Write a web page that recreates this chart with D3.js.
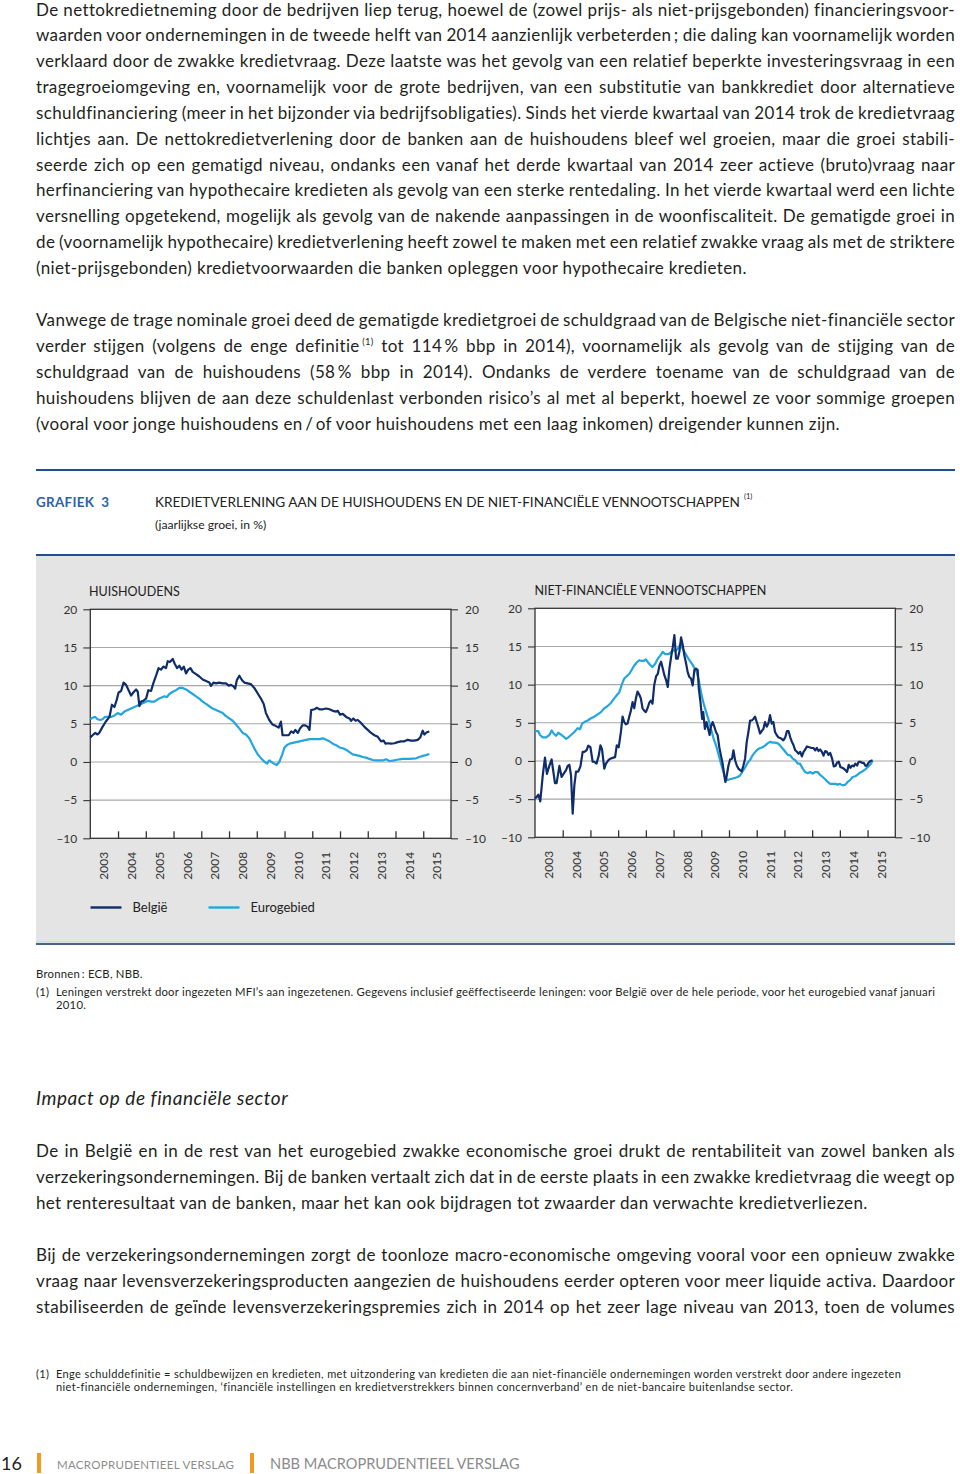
<!DOCTYPE html>
<html><head><meta charset="utf-8">
<script src="https://cdn.jsdelivr.net/npm/d3@7"></script>
<style>html,body{margin:0;padding:0;background:#fff}svg{display:block}</style>
</head><body>
<svg id="page" width="960" height="1474"></svg>
<script>
// ---------------- DATA ----------------
const valueTicks = [-10, -5, 0, 5, 10, 15, 20];
const yearBoundaries = [2004, 2005, 2006, 2007, 2008, 2009, 2010, 2011, 2012, 2013, 2014, 2015];
const yearLabels = ["2003","2004","2005","2006","2007","2008","2009","2010","2011","2012","2013","2014","2015"];
const seriesNames = ["België", "Eurogebied"];
const panelTitles = ["HUISHOUDENS", "NIET-FINANCIËLE VENNOOTSCHAPPEN"];

// Households – Belgium [decimal year, % growth]
const hhBelgium = [[2003.00,3.2],[2003.08,3.5],[2003.18,3.8],[2003.26,3.6],[2003.32,3.8],[2003.44,4.6],[2003.56,5.3],[2003.69,5.9],[2003.78,7.5],[2003.87,7.2],[2003.95,8.1],[2004.02,9.1],[2004.11,9.3],[2004.20,10.4],[2004.29,10.1],[2004.38,9.4],[2004.47,8.7],[2004.55,9.1],[2004.65,9.5],[2004.71,9.2],[2004.77,7.3],[2004.83,7.9],[2004.91,8.0],[2005.01,8.3],[2005.09,9.4],[2005.19,9.3],[2005.27,10.3],[2005.37,11.3],[2005.46,12.3],[2005.55,12.1],[2005.63,12.5],[2005.73,12.3],[2005.79,13.2],[2005.87,13.1],[2005.97,13.5],[2006.05,12.8],[2006.13,12.3],[2006.21,12.6],[2006.29,12.1],[2006.37,12.5],[2006.45,11.6],[2006.53,12.1],[2006.61,12.3],[2006.69,11.8],[2006.81,11.5],[2006.93,11.2],[2007.05,10.8],[2007.17,10.6],[2007.29,10.4],[2007.35,9.96],[2007.44,10.4],[2007.53,10.3],[2007.65,10.4],[2007.77,10.3],[2007.89,10.3],[2007.99,10.0],[2008.07,10.1],[2008.16,9.9],[2008.22,9.6],[2008.28,10.7],[2008.37,11.3],[2008.47,10.7],[2008.55,10.4],[2008.67,10.3],[2008.79,10.2],[2008.91,9.7],[2009.03,9.0],[2009.15,8.3],[2009.25,7.6],[2009.33,6.4],[2009.45,5.5],[2009.57,4.9],[2009.69,4.7],[2009.79,4.5],[2009.87,5.3],[2009.93,3.5],[2010.06,3.5],[2010.15,3.5],[2010.24,4.0],[2010.32,3.8],[2010.39,4.2],[2010.48,3.8],[2010.56,4.4],[2010.66,4.8],[2010.75,4.8],[2010.84,4.6],[2010.90,4.2],[2010.96,6.8],[2011.08,6.9],[2011.16,7.1],[2011.26,6.9],[2011.38,6.9],[2011.50,7.0],[2011.62,6.9],[2011.74,6.7],[2011.86,6.6],[2011.92,6.7],[2012.00,6.2],[2012.10,6.3],[2012.22,5.9],[2012.34,5.7],[2012.40,5.4],[2012.48,5.7],[2012.56,5.4],[2012.64,5.5],[2012.76,5.1],[2012.88,4.6],[2013.00,4.2],[2013.12,3.8],[2013.24,3.5],[2013.36,3.3],[2013.48,2.7],[2013.57,2.8],[2013.64,2.4],[2013.72,2.45],[2013.84,2.4],[2013.96,2.45],[2014.08,2.6],[2014.20,2.7],[2014.32,2.7],[2014.44,2.9],[2014.56,2.8],[2014.68,2.8],[2014.80,2.9],[2014.89,3.2],[2014.98,4.1],[2015.04,3.6],[2015.13,3.9],[2015.22,4.0]];

// Households – euro area
const hhEuro = [[2003.00,5.6],[2003.08,5.8],[2003.18,5.9],[2003.26,5.6],[2003.36,5.5],[2003.44,5.6],[2003.53,5.9],[2003.63,5.9],[2003.75,5.9],[2003.87,6.1],[2003.99,6.4],[2004.11,6.2],[2004.23,6.6],[2004.35,6.8],[2004.47,7.0],[2004.59,7.2],[2004.71,7.4],[2004.83,7.6],[2004.95,7.8],[2005.07,8.0],[2005.19,7.9],[2005.31,7.9],[2005.43,8.2],[2005.55,8.4],[2005.67,8.6],[2005.76,8.5],[2005.85,8.9],[2005.97,9.2],[2006.09,9.4],[2006.21,9.7],[2006.33,9.7],[2006.45,9.5],[2006.57,9.2],[2006.69,8.9],[2006.81,8.6],[2006.93,8.3],[2007.05,7.9],[2007.17,7.6],[2007.29,7.3],[2007.41,7.0],[2007.53,6.8],[2007.65,6.6],[2007.77,6.4],[2007.89,6.0],[2008.01,5.7],[2008.13,5.4],[2008.25,4.9],[2008.37,4.4],[2008.49,3.8],[2008.61,3.6],[2008.73,3.1],[2008.83,2.4],[2008.91,1.8],[2009.03,1.0],[2009.15,0.5],[2009.27,0.05],[2009.37,-0.2],[2009.45,0.2],[2009.55,-0.05],[2009.63,-0.25],[2009.72,-0.4],[2009.81,0.0],[2009.91,0.9],[2010.00,1.9],[2010.08,2.2],[2010.18,2.4],[2010.30,2.5],[2010.42,2.6],[2010.54,2.7],[2010.66,2.8],[2010.78,2.9],[2010.90,3.0],[2011.02,3.0],[2011.14,3.0],[2011.26,3.0],[2011.38,3.1],[2011.50,2.9],[2011.62,2.7],[2011.74,2.4],[2011.86,2.2],[2011.98,1.9],[2012.10,1.8],[2012.22,1.6],[2012.34,1.3],[2012.46,1.0],[2012.58,0.9],[2012.70,0.8],[2012.82,0.65],[2012.94,0.57],[2013.06,0.4],[2013.18,0.26],[2013.30,0.2],[2013.42,0.2],[2013.54,0.2],[2013.66,0.35],[2013.78,0.13],[2013.90,0.17],[2014.02,0.26],[2014.14,0.35],[2014.26,0.4],[2014.38,0.4],[2014.50,0.4],[2014.62,0.44],[2014.74,0.48],[2014.86,0.65],[2014.98,0.8],[2015.10,0.9],[2015.22,1.05]];

// Non-financial corporations – Belgium
const nfcBelgium = [[2003.00,-4.9],[2003.06,-4.7],[2003.12,-4.4],[2003.19,-5.3],[2003.28,-1.9],[2003.36,0.44],[2003.43,-1.7],[2003.52,-0.6],[2003.60,0.2],[2003.66,-1.35],[2003.72,-2.9],[2003.78,-2.9],[2003.88,-0.65],[2003.96,-2.1],[2004.03,-1.7],[2004.12,-1.2],[2004.18,-0.65],[2004.24,-0.5],[2004.30,-1.9],[2004.36,-6.9],[2004.42,-3.2],[2004.48,-1.4],[2004.56,-1.4],[2004.64,-0.7],[2004.72,1.2],[2004.78,1.2],[2004.86,1.4],[2004.92,2.0],[2005.00,1.8],[2005.08,-0.1],[2005.14,-0.1],[2005.22,-0.35],[2005.30,0.7],[2005.36,2.05],[2005.42,1.5],[2005.50,-1.0],[2005.56,-0.35],[2005.65,0.1],[2005.72,0.3],[2005.80,0.4],[2005.89,0.5],[2005.95,2.05],[2006.02,1.8],[2006.10,3.8],[2006.16,5.8],[2006.22,5.1],[2006.28,4.8],[2006.34,4.9],[2006.40,5.8],[2006.46,6.6],[2006.52,7.7],[2006.58,6.9],[2006.64,8.2],[2006.70,9.1],[2006.76,8.7],[2006.82,8.2],[2006.88,6.9],[2006.94,6.6],[2007.00,6.4],[2007.06,6.9],[2007.12,7.6],[2007.18,7.9],[2007.24,7.5],[2007.30,9.9],[2007.37,11.1],[2007.43,11.4],[2007.49,12.5],[2007.55,13.0],[2007.61,12.1],[2007.67,11.2],[2007.73,10.6],[2007.79,9.7],[2007.85,12.1],[2007.91,13.6],[2007.97,14.9],[2008.03,16.5],[2008.09,13.4],[2008.15,13.4],[2008.21,14.3],[2008.27,16.2],[2008.33,15.2],[2008.39,13.8],[2008.45,12.8],[2008.51,11.6],[2008.57,11.0],[2008.63,10.8],[2008.69,9.9],[2008.75,11.9],[2008.81,12.1],[2008.87,11.9],[2008.91,9.5],[2008.97,7.7],[2009.03,5.5],[2009.07,6.4],[2009.13,4.2],[2009.19,5.1],[2009.25,4.2],[2009.30,3.4],[2009.35,4.5],[2009.41,5.1],[2009.47,4.5],[2009.53,3.8],[2009.59,3.4],[2009.65,1.8],[2009.71,0.7],[2009.77,-0.35],[2009.83,-1.9],[2009.87,-2.75],[2009.92,-1.9],[2009.98,-0.6],[2010.04,0.2],[2010.11,0.3],[2010.16,1.4],[2010.22,0.1],[2010.28,-0.6],[2010.34,-1.0],[2010.40,-1.2],[2010.46,-1.35],[2010.52,-0.6],[2010.58,0.3],[2010.64,2.5],[2010.70,3.8],[2010.76,5.3],[2010.82,5.3],[2010.88,5.5],[2010.94,5.8],[2011.00,5.1],[2011.06,4.4],[2011.12,3.6],[2011.18,3.9],[2011.24,4.2],[2011.30,5.1],[2011.36,4.5],[2011.42,4.9],[2011.48,6.0],[2011.54,4.9],[2011.60,5.1],[2011.66,3.8],[2011.72,3.4],[2011.78,3.1],[2011.84,3.0],[2011.90,2.9],[2011.96,2.7],[2012.03,3.1],[2012.09,3.9],[2012.15,3.9],[2012.21,3.1],[2012.27,2.5],[2012.33,2.05],[2012.39,1.4],[2012.45,1.2],[2012.51,0.96],[2012.57,1.2],[2012.63,0.6],[2012.69,1.2],[2012.75,1.5],[2012.81,1.9],[2012.90,1.8],[2012.98,1.7],[2013.05,1.7],[2013.11,1.4],[2013.17,1.7],[2013.23,1.3],[2013.29,1.5],[2013.35,1.2],[2013.41,0.7],[2013.47,1.3],[2013.53,1.2],[2013.59,0.8],[2013.65,1.05],[2013.72,0.3],[2013.78,-0.7],[2013.84,-0.65],[2013.90,-0.2],[2013.96,-0.1],[2014.02,-0.8],[2014.08,-0.9],[2014.14,-1.0],[2014.20,-1.2],[2014.26,-1.45],[2014.32,-0.5],[2014.38,-0.9],[2014.44,-0.6],[2014.50,-0.7],[2014.56,-0.35],[2014.62,-0.6],[2014.68,-0.1],[2014.74,-0.1],[2014.80,-0.25],[2014.86,-0.25],[2014.92,-0.6],[2014.98,-0.6],[2015.04,-0.2],[2015.10,0.0],[2015.18,0.1]];

// Non-financial corporations – euro area
const nfcEuro = [[2003.00,3.9],[2003.06,3.9],[2003.12,3.9],[2003.18,3.4],[2003.28,3.1],[2003.40,3.1],[2003.52,3.4],[2003.60,4.0],[2003.67,3.6],[2003.76,3.3],[2003.84,3.7],[2003.94,3.45],[2004.03,3.2],[2004.12,2.9],[2004.20,3.1],[2004.30,3.4],[2004.42,3.8],[2004.54,4.3],[2004.62,4.15],[2004.70,4.9],[2004.78,5.1],[2004.90,5.3],[2005.02,5.6],[2005.14,5.8],[2005.26,6.1],[2005.38,6.4],[2005.50,6.9],[2005.62,7.2],[2005.74,7.6],[2005.86,8.2],[2005.95,8.6],[2006.04,9.0],[2006.14,10.1],[2006.22,10.8],[2006.31,11.1],[2006.40,11.4],[2006.50,12.0],[2006.58,12.5],[2006.67,12.9],[2006.76,13.2],[2006.85,13.1],[2006.92,13.1],[2007.00,13.3],[2007.06,13.0],[2007.15,12.6],[2007.24,12.3],[2007.33,12.7],[2007.43,13.4],[2007.52,13.8],[2007.61,14.3],[2007.69,14.0],[2007.79,14.0],[2007.87,14.1],[2007.97,14.5],[2008.06,14.4],[2008.15,14.7],[2008.23,15.2],[2008.30,14.9],[2008.39,14.3],[2008.47,13.8],[2008.57,13.2],[2008.66,12.75],[2008.75,12.2],[2008.83,11.7],[2008.91,10.6],[2008.99,9.0],[2009.07,7.7],[2009.17,6.5],[2009.27,5.3],[2009.35,4.2],[2009.43,3.1],[2009.53,2.05],[2009.63,0.74],[2009.71,-0.35],[2009.80,-1.45],[2009.87,-2.2],[2009.95,-2.5],[2010.04,-2.4],[2010.13,-2.3],[2010.23,-2.2],[2010.31,-2.1],[2010.40,-1.9],[2010.49,-1.35],[2010.59,-0.8],[2010.67,-0.25],[2010.77,0.2],[2010.85,0.74],[2010.95,1.2],[2011.03,1.5],[2011.13,1.7],[2011.21,1.8],[2011.31,2.05],[2011.39,2.3],[2011.48,2.5],[2011.58,2.4],[2011.67,2.4],[2011.76,2.3],[2011.84,2.05],[2011.94,1.6],[2012.03,1.2],[2012.12,0.8],[2012.21,0.74],[2012.30,0.3],[2012.39,0.1],[2012.48,-0.35],[2012.56,-0.35],[2012.66,-1.0],[2012.75,-1.45],[2012.84,-1.6],[2012.92,-1.45],[2013.02,-1.65],[2013.11,-1.45],[2013.20,-1.45],[2013.28,-1.8],[2013.38,-2.1],[2013.47,-2.4],[2013.56,-2.75],[2013.65,-3.0],[2013.74,-3.0],[2013.84,-3.0],[2013.92,-3.1],[2014.00,-3.0],[2014.10,-3.2],[2014.20,-3.1],[2014.28,-2.75],[2014.37,-2.5],[2014.46,-2.1],[2014.56,-2.0],[2014.64,-1.8],[2014.74,-1.5],[2014.82,-1.35],[2014.92,-1.1],[2015.00,-0.8],[2015.09,-0.5],[2015.18,0.0]];

// ---------------- TEXT ----------------
const para1 = [
 "De nettokredietneming door de bedrijven liep terug, hoewel de (zowel prijs- als niet-prijsgebonden) financieringsvoor-",
 "waarden voor ondernemingen in de tweede helft van 2014 aanzienlijk verbeterden\u2009; die daling kan voornamelijk worden",
 "verklaard door de zwakke kredietvraag. Deze laatste was het gevolg van een relatief beperkte investeringsvraag in een",
 "tragegroeiomgeving en, voornamelijk voor de grote bedrijven, van een substitutie van bankkrediet door alternatieve",
 "schuldfinanciering (meer in het bijzonder via bedrijfsobligaties). Sinds het vierde kwartaal van 2014 trok de kredietvraag",
 "lichtjes aan. De nettokredietverlening door de banken aan de huishoudens bleef wel groeien, maar die groei stabili-",
 "seerde zich op een gematigd niveau, ondanks een vanaf het derde kwartaal van 2014 zeer actieve (bruto)vraag naar",
 "herfinanciering van hypothecaire kredieten als gevolg van een sterke rentedaling. In het vierde kwartaal werd een lichte",
 "versnelling opgetekend, mogelijk als gevolg van de nakende aanpassingen in de woonfiscaliteit. De gematigde groei in",
 "de (voornamelijk hypothecaire) kredietverlening heeft zowel te maken met een relatief zwakke vraag als met de striktere",
 "(niet-prijsgebonden) kredietvoorwaarden die banken opleggen voor hypothecaire kredieten."
];
const para2 = [
 "Vanwege de trage nominale groei deed de gematigde kredietgroei de schuldgraad van de Belgische niet-financiële sector",
 ["verder stijgen (volgens de enge definitie\u2009", "(1)", " tot 114\u2009% bbp in 2014), voornamelijk als gevolg van de stijging van de"],
 "schuldgraad van de huishoudens (58\u2009% bbp in 2014). Ondanks de verdere toename van de schuldgraad van de",
 "huishoudens blijven de aan deze schuldenlast verbonden risico’s al met al beperkt, hoewel ze voor sommige groepen",
 "(vooral voor jonge huishoudens en\u2009/\u2009of voor huishoudens met een laag inkomen) dreigender kunnen zijn."
];
const heading = "Impact op de financiële sector";
const para3 = [
 "De in België en in de rest van het eurogebied zwakke economische groei drukt de rentabiliteit van zowel banken als",
 "verzekeringsondernemingen. Bij de banken vertaalt zich dat in de eerste plaats in een zwakke kredietvraag die weegt op",
 "het renteresultaat van de banken, maar het kan ook bijdragen tot zwaarder dan verwachte kredietverliezen."
];
const para4 = [
 "Bij de verzekeringsondernemingen zorgt de toonloze macro-economische omgeving vooral voor een opnieuw zwakke",
 "vraag naar levensverzekeringsproducten aangezien de huishoudens eerder opteren voor meer liquide activa. Daardoor",
 "stabiliseerden de geïnde levensverzekeringspremies zich in 2014 op het zeer lage niveau van 2013, toen de volumes"
];
const chartLabel = "GRAFIEK\u00a0\u00a03";
const chartTitle = "KREDIETVERLENING AAN DE HUISHOUDENS EN DE NIET-FINANCIËLE VENNOOTSCHAPPEN";
const chartSubtitle = "(jaarlijkse groei, in %)";
const sourceText = "Bronnen\u2009: ECB, NBB.";
const chartNote = ["Leningen verstrekt door ingezeten MFI’s aan ingezetenen. Gegevens inclusief geëffectiseerde leningen: voor België over de hele periode, voor het eurogebied vanaf januari", "2010."];
const pageNote = ["Enge schulddefinitie = schuldbewijzen en kredieten, met uitzondering van kredieten die aan niet-financiële ondernemingen worden verstrekt door andere ingezeten", "niet-financiële ondernemingen, ‘financiële instellingen en kredietverstrekkers binnen concernverband’ en de niet-bancaire buitenlandse sector."];
const footer = ["16", "MACROPRUDENTIEEL VERSLAG", "NBB MACROPRUDENTIEEL VERSLAG"];

// ---------------- DRAW ----------------
const FONT = "Lato, 'Open Sans', sans-serif";
const TEXT = "#231f20";
const DARK = "#0f2d6a", LIGHT = "#23a6de", BLUE = "#1f4f8c";
const svg = d3.select("#page").style("font-family", FONT);

function textLine(x, y, content, o) {
  const t = svg.append("text").attr("x", x).attr("y", y)
    .attr("font-size", o.size).attr("fill", o.fill || TEXT)
    .attr("font-style", o.italic ? "italic" : null)
    .attr("font-weight", o.weight || null)
    .style("letter-spacing", o.ls ? o.ls + "px" : null);
  let plain = "";
  if (Array.isArray(content)) {
    t.append("tspan").text(content[0]);
    t.append("tspan").attr("font-size", o.size * 0.55).attr("dy", -o.size * 0.38).text(content[1]);
    t.append("tspan").attr("dy", o.size * 0.38).text(content[2]);
    plain = content.join("");
  } else { t.text(content); plain = content; }
  if (o.justify) {
    const nat = t.node().getComputedTextLength();
    const n = (plain.match(/ /g) || []).length;
    if (n) t.style("word-spacing", ((o.width - nat) / n) + "px");
  }
  return t;
}
const BODY = 17, BODY_LS = 0.36;
function paragraph(lines, x, y0, lh, justifyLast) {
  lines.forEach((l, i) => textLine(x, y0 + i * lh, l,
    {size: BODY, ls: BODY_LS, justify: justifyLast || i < lines.length - 1, width: 919}));
}

paragraph(para1, 36, 15.5, 25.85, false);
paragraph(para2, 36, 325.5, 26, false);
textLine(36, 1105, heading, {size: 19, italic: true, ls: 0.55});
paragraph(para3, 36, 1157, 26, false);
paragraph(para4, 36, 1261, 26, true);

// Header of chart
svg.append("rect").attr("x", 36).attr("y", 469).attr("width", 919).attr("height", 2).attr("fill", BLUE);
textLine(36, 507, chartLabel, {size: 13.4, fill: "#2b63a8", weight: 700, ls: 0.3});
textLine(155, 507, chartTitle, {size: 13.6, fill: "#222"});
textLine(744, 499, "(1)", {size: 7.5, fill: "#222"});
textLine(155, 529, chartSubtitle, {size: 12.2, fill: "#222"});

// Panel background
svg.append("rect").attr("x", 36).attr("y", 555).attr("width", 919).attr("height", 388).attr("fill", "#e4e4e4");
svg.append("rect").attr("x", 36).attr("y", 554).attr("width", 919).attr("height", 2).attr("fill", BLUE);
svg.append("rect").attr("x", 36).attr("y", 941).attr("width", 919).attr("height", 1.2).attr("fill", "#c4dcef");
svg.append("rect").attr("x", 36).attr("y", 943.2).attr("width", 919).attr("height", 1.6).attr("fill", "#1c3c6e");

function drawPanel(p) {
  const x = d3.scaleLinear().domain([2003, 2016]).range([p.left, p.right]);
  const y = d3.scaleLinear().domain([-10, 20]).range([p.bottom, p.top]);
  const g = svg.append("g");
  g.append("rect").attr("x", p.left).attr("y", p.top).attr("width", p.right - p.left)
    .attr("height", p.bottom - p.top).attr("fill", "#fff");
  // gridlines
  g.selectAll(".grid").data(valueTicks.filter(v => v > -10 && v < 20)).join("line")
    .attr("x1", p.left).attr("x2", p.right).attr("y1", d => y(d)).attr("y2", d => y(d))
    .attr("stroke", "#a7a7a7").attr("stroke-width", 1.1);
  const fmt = d => (d < 0 ? "\u2013" : "") + Math.abs(d);
  const styleAxis = a => {
    a.select(".domain").remove();
    a.selectAll(".tick line").attr("stroke", "#333").attr("stroke-width", 1.1);
    a.selectAll(".tick text").attr("fill", "#333").attr("font-size", 12).attr("font-family", FONT);
  };
  g.append("g").attr("transform", `translate(${p.left},0)`)
    .call(d3.axisLeft(y).tickValues(valueTicks).tickSize(7).tickPadding(6).tickFormat(fmt)).call(styleAxis);
  g.append("g").attr("transform", `translate(${p.right},0)`)
    .call(d3.axisRight(y).tickValues(valueTicks).tickSize(7).tickPadding(7).tickFormat(fmt)).call(styleAxis);
  g.append("g").attr("transform", `translate(0,${p.bottom})`)
    .call(d3.axisBottom(x).tickValues(yearBoundaries).tickSize(-7).tickFormat(""))
    .call(a => { a.select(".domain").remove(); a.selectAll(".tick line").attr("stroke", "#333").attr("stroke-width", 1.3); });
  // frame
  g.append("rect").attr("x", p.left).attr("y", p.top).attr("width", p.right - p.left)
    .attr("height", p.bottom - p.top).attr("fill", "none").attr("stroke", "#333").attr("stroke-width", 1.3);
  // year labels
  g.selectAll(".yl").data(yearLabels).join("text")
    .attr("transform", (d, i) => `translate(${x(2003.5 + i)},${p.bottom + 13.5}) rotate(-90)`)
    .attr("text-anchor", "end").attr("dy", "0.35em").attr("font-size", 12).attr("fill", "#333").text(d => d);
  // title
  g.append("text").attr("x", p.titleX).attr("y", p.top - 13).attr("font-size", 12.5).attr("fill", "#222").text(p.title);
  // lines
  const line = d3.line().x(d => x(d[0])).y(d => y(d[1]));
  g.append("path").datum(p.euro).attr("d", line).attr("fill", "none").attr("stroke", LIGHT)
    .attr("stroke-width", 2.2).attr("stroke-linejoin", "round");
  g.append("path").datum(p.be).attr("d", line).attr("fill", "none").attr("stroke", DARK)
    .attr("stroke-width", 2.2).attr("stroke-linejoin", "round");
}
drawPanel({left: 90.3, right: 451, top: 609.3, bottom: 838.3, titleX: 89, title: panelTitles[0], be: hhBelgium, euro: hhEuro});
drawPanel({left: 535, right: 895.3, top: 608.3, bottom: 837.3, titleX: 534.5, title: panelTitles[1], be: nfcBelgium, euro: nfcEuro});

// legend
const legend = [{name: seriesNames[0], color: DARK, x: 90.5}, {name: seriesNames[1], color: LIGHT, x: 208.5}];
legend.forEach(l => {
  svg.append("line").attr("x1", l.x).attr("x2", l.x + 31).attr("y1", 907.5).attr("y2", 907.5)
    .attr("stroke", l.color).attr("stroke-width", 2.4);
  svg.append("text").attr("x", l.x + 42).attr("y", 912).attr("font-size", 13).attr("fill", "#222").text(l.name);
});

// sources & notes
textLine(36, 978, sourceText, {size: 11.3, ls: 0.25});
textLine(36, 996, "(1)", {size: 11.3, ls: 0.25});
textLine(56, 996, chartNote[0], {size: 11.3, ls: 0.23});
textLine(56, 1009, chartNote[1], {size: 11.3, ls: 0.25});
textLine(36, 1378, "(1)", {size: 11, ls: 0.4});
textLine(56, 1378, pageNote[0], {size: 11, ls: 0.38});
textLine(56, 1391, pageNote[1], {size: 11, ls: 0.38});

// footer
textLine(1, 1470, footer[0], {size: 18, fill: "#222"});
svg.append("rect").attr("x", 37).attr("y", 1453).attr("width", 4).attr("height", 20).attr("fill", "#f39a1e");
textLine(57, 1469, footer[1], {size: 11.5, fill: "#8c8c8c", ls: 0.3});
svg.append("rect").attr("x", 250).attr("y", 1453).attr("width", 4).attr("height", 20).attr("fill", "#f39a1e");
textLine(270, 1469, footer[2], {size: 14.6, fill: "#8c8c8c"});
</script>
</body></html>
